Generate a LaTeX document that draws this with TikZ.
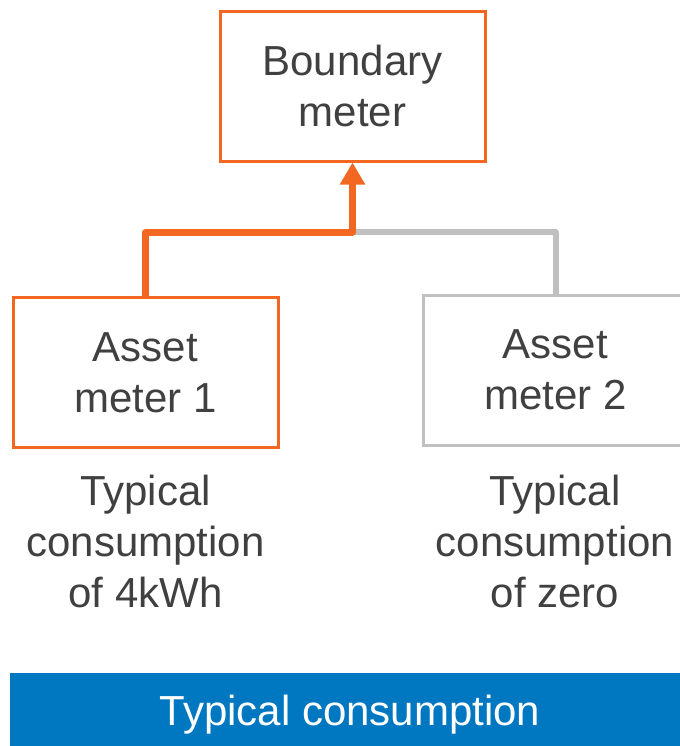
\documentclass[tikz,border=0pt]{standalone}
\usepackage{fontspec}
\setmainfont{Liberation Sans}
\usepackage{tikz}
\usetikzlibrary{positioning,arrows.meta}
\definecolor{meterorange}{RGB}{242,104,34}
\definecolor{metergrey}{RGB}{192,192,192}
\definecolor{textgrey}{RGB}{64,64,64}
\definecolor{barblue}{RGB}{0,120,193}

\begin{document}
\begin{tikzpicture}[
x=0.75pt, y=0.75pt,
meter/.style={rectangle, draw=meterorange, line width=2.25pt, minimum width=198.75pt, minimum height=112.5pt, align=center, text=textgrey, font=\fontsize{31.5}{38.25}\selectfont},
idlemeter/.style={meter, draw=metergrey},
note/.style={align=center, text=textgrey, font=\fontsize{31.5}{38.25}\selectfont},
live/.style={draw=meterorange, line width=5.25pt, line join=round},
idle/.style={draw=metergrey, line width=4.5pt, line join=round},
]
\useasboundingbox (0,0) rectangle (679,-746);

\node[meter] (boundary) at (352.5, -86) {Boundary\\meter};
\node[meter] (asset1) at (145.5, -372.5) {Asset\\meter 1};
\node[idlemeter] (asset2) at (555.5, -370) {Asset\\meter 2};

\node[note] (note1) at (145.5, -541) {Typical\\consumption\\of 4kWh};
\node[note] (note2) at (555, -541) {Typical\\consumption\\of zero};

\coordinate (join) at (352.5, -232);

\draw[idle] (join) -| (asset2.north);
\draw[live, -{Triangle[length=16.5pt, width=18pt]}] (asset1.north) |- (join) -- (boundary.south);

\node[rectangle, fill=barblue, minimum width=510pt, minimum height=63pt, text=white, font=\fontsize{31.5}{38.25}\selectfont] (bar) at (350, -715) {Typical consumption};
\end{tikzpicture}
\end{document}
